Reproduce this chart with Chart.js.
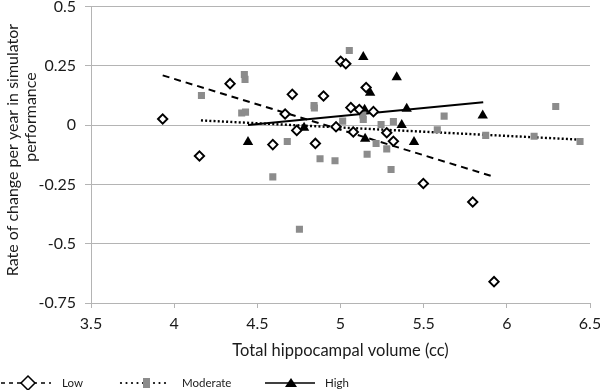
<!DOCTYPE html>
<html><head><meta charset="utf-8">
<script src="https://cdn.jsdelivr.net/npm/chart.js@4"></script>
<style>html,body{margin:0;padding:0;background:#fff}</style>
</head><body>
<canvas id="c" width="600" height="390" style="width:600px;height:390px;display:block"></canvas>
<script>
// ---- data ----
const xTickValues = [3.5, 4, 4.5, 5, 5.5, 6, 6.5];
const xTickLabels = ['3.5', '4', '4.5', '5', '5.5', '6', '6.5'];
const yTickValues = [-0.75, -0.5, -0.25, 0, 0.25, 0.5];
const yTickLabels = ['-0.75', '-0.5', '-0.25', '0', '0.25', '0.5'];
const seriesNames = ['Low', 'Moderate', 'High'];
const xTitle = 'Total hippocampal volume (cc)';
const yTitleLines = ['Rate of change per year in simulator', 'performance'];

const lowX = [3.931, 4.152, 4.336, 4.593, 4.667, 4.710, 4.737, 4.849, 4.898, 4.973, 5.001, 5.032, 5.062, 5.077, 5.113, 5.154, 5.198, 5.278, 5.318, 5.498, 5.795, 5.923];
const lowY = [0.026, -0.130, 0.175, -0.082, 0.047, 0.130, -0.022, -0.077, 0.123, -0.007, 0.269, 0.259, 0.074, -0.029, 0.066, 0.159, 0.057, -0.032, -0.068, -0.246, -0.324, -0.660];

const modX = [4.164, 4.422, 4.426, 4.406, 4.429, 4.593, 4.680, 4.753, 4.841, 4.843, 4.877, 4.967, 5.013, 5.053, 5.134, 5.137, 5.160, 5.214, 5.244, 5.278, 5.304, 5.318, 5.582, 5.623, 5.873, 6.164, 6.294, 6.440];
const modY = [0.125, 0.214, 0.193, 0.051, 0.055, -0.218, -0.069, -0.439, 0.083, 0.072, -0.142, -0.150, 0.017, 0.315, 0.043, 0.024, -0.123, -0.077, 0.003, -0.100, -0.187, 0.015, -0.019, 0.038, -0.043, -0.047, 0.079, -0.069];

const highX = [4.444, 4.781, 5.137, 5.145, 5.148, 5.178, 5.338, 5.368, 5.398, 5.442, 5.855];
const highY = [-0.071, -0.011, 0.287, 0.065, -0.057, 0.137, 0.202, 0.001, 0.069, -0.071, 0.041];

const lowTrendX = [3.931, 5.925];
const lowTrendY = [0.210, -0.218];
const modTrendX = [4.161, 6.440];
const modTrendY = [0.020, -0.061];
const highTrendX = [4.444, 5.858];
const highTrendY = [0.001, 0.097];

// ---- helpers ----
const pts = (xs, ys) => xs.map((x, i) => ({x, y: ys[i]}));
const FONT = 'Lato, "Open Sans", sans-serif';
const TEXT = '#1a1a1a';
const GRID = '#b4b4b4';
const SQUARE = '#8c8c8c';

// Excel-style legend (line through marker) and the two-line y-axis title
const decorPlugin = {
  id: 'excelDecor',
  afterDraw(chart) {
    const ctx = chart.ctx;
    ctx.save();
    // y-axis title
    ctx.fillStyle = TEXT;
    ctx.font = '16px ' + FONT;
    ctx.textAlign = 'center';
    ctx.textBaseline = 'middle';
    ctx.save(); ctx.translate(13, 150); ctx.rotate(-Math.PI / 2); ctx.fillText(yTitleLines[0], 0, 0); ctx.restore();
    ctx.save(); ctx.translate(30.5, 117); ctx.rotate(-Math.PI / 2); ctx.fillText(yTitleLines[1], 0, 0); ctx.restore();

    // legend
    const y = 383;
    ctx.font = '11.5px ' + FONT;
    ctx.textAlign = 'left';
    // Low
    ctx.strokeStyle = '#000';
    ctx.lineWidth = 1.3;
    ctx.setLineDash([4, 4]);
    ctx.beginPath(); ctx.moveTo(1, y); ctx.lineTo(51, y); ctx.stroke();
    ctx.setLineDash([]);
    ctx.beginPath();
    ctx.moveTo(28, y - 7); ctx.lineTo(35, y); ctx.lineTo(28, y + 7); ctx.lineTo(21, y); ctx.closePath();
    ctx.fillStyle = '#fff'; ctx.fill(); ctx.lineWidth = 1.5; ctx.stroke();
    ctx.fillStyle = TEXT;
    ctx.fillText(seriesNames[0], 62, y);
    // Moderate
    ctx.fillStyle = '#000';
    for (let x = 121; x <= 167; x += 5.5) {
      ctx.beginPath(); ctx.arc(x, y, 1.1, 0, Math.PI * 2); ctx.fill();
    }
    ctx.fillStyle = SQUARE;
    ctx.fillRect(143, y - 5, 7, 10);
    ctx.fillStyle = TEXT;
    ctx.fillText(seriesNames[1], 182, y);
    // High
    ctx.strokeStyle = '#000'; ctx.lineWidth = 1.5;
    ctx.beginPath(); ctx.moveTo(265, y); ctx.lineTo(315, y); ctx.stroke();
    ctx.fillStyle = '#000';
    ctx.beginPath(); ctx.moveTo(291, y - 5); ctx.lineTo(297, y + 4); ctx.lineTo(285, y + 4); ctx.closePath(); ctx.fill();
    ctx.fillStyle = TEXT;
    ctx.fillText(seriesNames[2], 325, y);
    ctx.restore();
  }
};

new Chart(document.getElementById('c'), {
  type: 'scatter',
  data: {
    datasets: [
      { label: seriesNames[0], data: pts(lowX, lowY), pointStyle: 'rectRot', pointRadius: 4.7, pointHoverRadius: 4.7,
        backgroundColor: '#fff', borderColor: '#000', borderWidth: 1.9 },
      { label: seriesNames[1], data: pts(modX, modY), pointStyle: 'rect', pointRadius: 5, pointHoverRadius: 5,
        backgroundColor: SQUARE, borderColor: SQUARE, borderWidth: 0 },
      { label: seriesNames[2], data: pts(highX, highY), pointStyle: 'triangle', pointRadius: 6, pointHoverRadius: 6,
        backgroundColor: '#000', borderColor: '#000', borderWidth: 0 },
      { label: 'Low trend', data: pts(lowTrendX, lowTrendY), showLine: true, pointRadius: 0,
        borderColor: '#000', borderWidth: 2, borderDash: [7, 5], fill: false },
      { label: 'Moderate trend', data: pts(modTrendX, modTrendY), showLine: true, pointRadius: 0,
        borderColor: '#000', borderWidth: 2.4, borderDash: [2, 2.2], fill: false },
      { label: 'High trend', data: pts(highTrendX, highTrendY), showLine: true, pointRadius: 0,
        borderColor: '#000', borderWidth: 2, fill: false }
    ]
  },
  options: {
    responsive: false,
    animation: false,
    events: [],
    layout: { padding: { left: 0, right: 10, top: 6, bottom: 26 } },
    plugins: { legend: { display: false }, tooltip: { enabled: false } },
    scales: {
      x: {
        type: 'linear', min: 3.5, max: 6.5,
        afterBuildTicks: s => { s.ticks = xTickValues.map(v => ({value: v})); },
        afterFit: s => { s.height = 61; s.paddingLeft = 0; s.paddingRight = 0; },
        ticks: { callback: (v) => xTickLabels[xTickValues.indexOf(v)], color: TEXT, font: { family: FONT, size: 16 }, padding: 6, maxRotation: 0, autoSkip: false },
        grid: { drawOnChartArea: false, drawTicks: true, tickLength: 5, color: GRID, tickColor: GRID },
        border: { display: true, color: GRID, width: 1 },
        title: { display: true, text: xTitle, color: TEXT, font: { family: FONT, size: 16.5 }, padding: { top: 0, bottom: 3 } }
      },
      y: {
        type: 'linear', min: -0.75, max: 0.5,
        afterBuildTicks: s => { s.ticks = yTickValues.map(v => ({value: v})); },
        afterFit: s => { s.width = 91; s.paddingTop = 0; s.paddingBottom = 0; },
        ticks: { callback: (v) => yTickLabels[yTickValues.indexOf(v)], color: TEXT, font: { family: FONT, size: 16 }, padding: 9 },
        grid: { drawOnChartArea: true, drawTicks: true, tickLength: 6, color: GRID, tickColor: GRID, lineWidth: 1 },
        border: { display: true, color: GRID, width: 1 },
        title: { display: false }
      }
    }
  },
  plugins: [decorPlugin]
});
</script>
</body></html>
